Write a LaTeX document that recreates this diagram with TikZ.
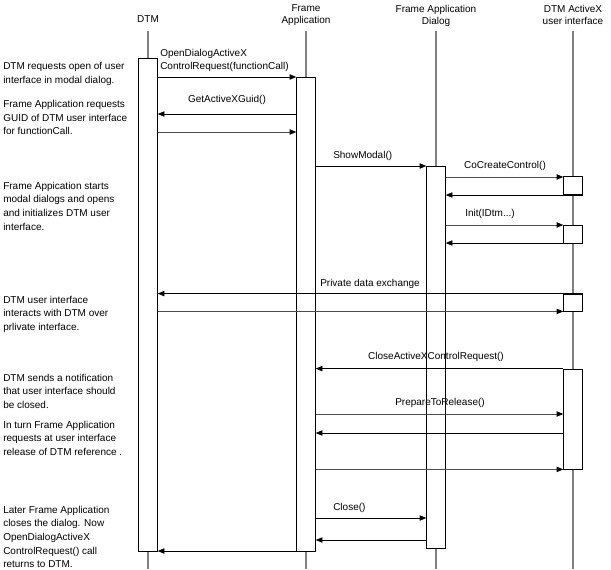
\documentclass[tikz,border=0pt]{standalone}
\usepackage{fontspec}
\setmainfont{Liberation Sans}
\usetikzlibrary{arrows.meta,positioning}

\begin{document}
\begin{tikzpicture}[x=0.75pt, y=-0.75pt,
    every node/.style={font=\fontsize{7.5}{10.3}\selectfont, inner sep=0pt},
    head/.style={align=center, anchor=north, font=\fontsize{7.5}{9}\selectfont},
    lifeline/.style={draw=black!50, line width=1pt},
    actbox/.style={draw, fill=white, line width=0.6pt, minimum width=14pt},
    note/.style={align=left, anchor=north west},
    msg/.style={line width=0.6pt, -{Triangle[length=5pt,width=4pt]}},
    msgg/.style={line width=0.6pt, draw=black!70, -{Triangle[length=5pt,width=4pt,color=black]}}]
  \useasboundingbox (0,0) rectangle (611,569);

  % heads of the lifelines
  \node[head] (dtm) at (148,15.5) {DTM};
  \node[head] (fa) at (306,4.5) {Frame\\Application};
  \node[head] (fad) at (436,4.5) {Frame Application\\Dialog};
  \node[head] (ui) at (573,4.5) {DTM ActiveX\\user interface};

  % lifelines
  \draw[lifeline] (dtm.south |- 0,31) -- (dtm.south |- 0,569);
  \draw[lifeline] (fa.south |- 0,31) -- (fa.south |- 0,569);
  \draw[lifeline] (fad.south |- 0,31) -- (fad.south |- 0,569);
  \draw[lifeline] (573,31) -- (573,569);

  % activation boxes
  \node[actbox, minimum height=369.75pt] (dtmact) at (148,304.5) {};
  \node[actbox, minimum height=355.5pt] (faact) at (306,314) {};
  \node[actbox, minimum height=286.5pt] (fadact) at (436,357) {};
  \node[actbox, minimum height=13.5pt] (uiact1) at (573,185.5) {};
  \node[actbox, minimum height=13.5pt] (uiact2) at (573,234) {};
  \node[actbox, minimum height=12.75pt] (uiact3) at (573,302.5) {};
  \node[actbox, minimum height=75pt] (uiact4) at (573,419) {};

  % messages
  \draw[msg] (dtmact.east |- 0,77) -- (faact.west |- 0,77);
  \node[note] (lopen) at (160,48.5) {OpenDialogActiveX\\ControlRequest(functionCall)};
  \draw[msg] (faact.west |- 0,114) -- (dtmact.east |- 0,114);
  \node (lguid) at (227,100) {GetActiveXGuid()};
  \draw[msgg] (dtmact.east |- 0,132) -- (faact.west |- 0,132);
  \draw[msg] (faact.east |- 0,166) -- (fadact.west |- 0,166);
  \node[note] (lshow) at (333,151) {ShowModal()};
  \draw[msgg] (fadact.east |- 0,177) -- (uiact1.west |- 0,177);
  \node (lcreate) at (505,166) {CoCreateControl()};
  \draw[msg] (uiact1.east |- 0,195) -- (fadact.east |- 0,195);
  \draw[msgg] (fadact.east |- 0,225) -- (uiact2.west |- 0,225);
  \node[note] (linit) at (465,208.5) {Init(IDtm...)};
  \draw[msg] (uiact2.east |- 0,243) -- (fadact.east |- 0,243);
  \draw[msg] (uiact3.north east) -- (dtmact.east |- uiact3.north);
  \node[note] (lpriv) at (320,278.5) {Private data exchange};
  \draw[msgg] (dtmact.east |- uiact3.south) -- (uiact3.south west);
  \draw[msg] (uiact4.north west) -- (faact.east |- uiact4.north);
  \node (lclose) at (436,357) {CloseActiveXControlRequest()};
  \draw[msgg] (faact.east |- 0,414) -- (uiact4.west |- 0,414);
  \node (lprep) at (440,403) {PrepareToRelease()};
  \draw[msg] (uiact4.west |- 0,433) -- (faact.east |- 0,433);
  \draw[msgg] (faact.east |- uiact4.south) -- (uiact4.south west);
  \draw[msg] (faact.east |- 0,518) -- (fadact.west |- 0,518);
  \node[note] (lcl) at (333,502.5) {Close()};
  \draw[msg] (fadact.west |- 0,540) -- (faact.east |- 0,540);
  \draw[msg] (faact.west |- 0,551) -- (dtmact.east |- 0,551);

  % notes on the left
  \node[note] (n1) at (3,62) {DTM requests open of user\\interface in modal dialog.};
  \node[note] (n2) at (3,100) {Frame Application requests\\GUID of DTM user interface\\for functionCall.};
  \node[note] (n3) at (3,181.5) {Frame Appication starts\\modal dialogs and opens\\and initializes DTM user\\interface.};
  \node[note] (n4) at (3,295.5) {DTM user interface\\interacts with DTM over\\prlivate interface.};
  \node[note] (n5) at (3,373.5) {DTM sends a notification\\that user interface should\\be closed.};
  \node[note] (n6) at (3,420.5) {In turn Frame Application\\requests at user interface\\release of DTM reference .};
  \node[note] (n7) at (3,505.5) {Later Frame Application\\closes the dialog. Now\\OpenDialogActiveX\\ControlRequest() call\\returns to DTM.};
\end{tikzpicture}
\end{document}
